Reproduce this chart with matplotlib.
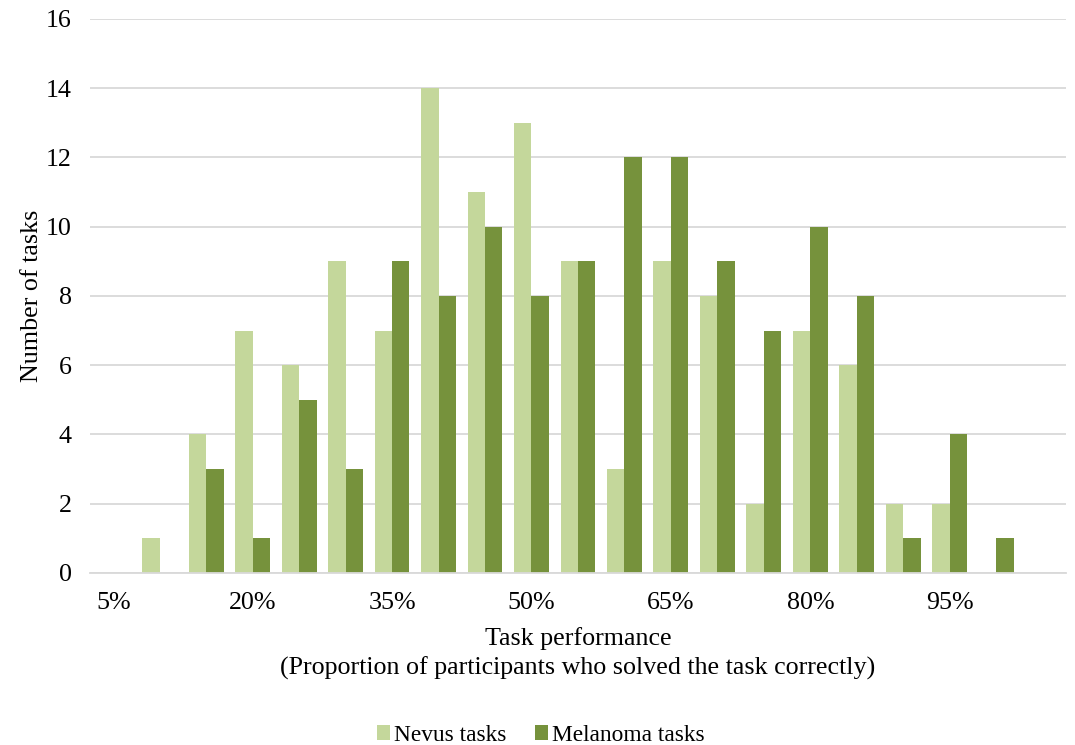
import matplotlib
matplotlib.use("Agg")
import matplotlib.pyplot as plt
import numpy as np

plt.rcParams['font.family'] = ['Liberation Serif', 'DejaVu Serif']

categories = ["5%", "10%", "15%", "20%", "25%", "30%", "35%", "40%", "45%", "50%",
              "55%", "60%", "65%", "70%", "75%", "80%", "85%", "90%", "95%", "100%", "105%"]
nevus = [0, 1, 4, 7, 6, 9, 7, 14, 11, 13, 9, 3, 9, 8, 2, 7, 6, 2, 2, 0, 0]
melanoma = [0, 0, 3, 1, 5, 3, 9, 8, 10, 8, 9, 12, 12, 9, 7, 10, 8, 1, 4, 1, 0]
yticks = [0, 2, 4, 6, 8, 10, 12, 14, 16]

c_nevus = "#C4D79B"
c_mel = "#76923C"
fs = 18.7
fs_leg = 16.8

fig = plt.figure(figsize=(10.75, 7.45), dpi=100)
ax = fig.add_axes([0.0837, 0.2309, 0.9079, 0.7436])

x = np.arange(len(categories))
w = 0.375
ax.bar(x - w / 2, nevus, width=w, color=c_nevus, label="Nevus tasks", zorder=3)
ax.bar(x + w / 2, melanoma, width=w, color=c_mel, label="Melanoma tasks", zorder=3)

ax.set_xlim(-0.5, len(categories) - 0.5)
ax.set_ylim(0, 16)
ax.set_yticks(yticks)
ax.set_yticklabels([str(v) for v in yticks], fontsize=fs)
ax.set_xticks(x[::3])
ax.set_xticklabels(categories[::3], fontsize=fs)
ax.tick_params(axis='both', length=0)
ax.tick_params(axis='x', pad=14)
ax.tick_params(axis='y', pad=13)
ax.grid(axis='y', color="#D9D9D9", linewidth=1.3, zorder=0)
for s in ['top', 'right', 'left']:
    ax.spines[s].set_visible(False)
ax.spines['bottom'].set_color("#D9D9D9")
ax.spines['bottom'].set_linewidth(1.3)
ax.spines['bottom'].set_zorder(4)

ax.set_ylabel("Number of tasks", fontsize=fs, labelpad=2)
ax.set_xlabel("Task performance\n(Proportion of participants who solved the task correctly)",
              fontsize=fs, labelpad=9, linespacing=1.38)

fig.legend(loc='center', ncol=2, bbox_to_anchor=(0.503, 0.013), frameon=False,
           fontsize=fs_leg, handlelength=0.56, handleheight=0.56, handletextpad=0.17,
           columnspacing=1.2, borderpad=0.1)

fig.savefig("out.png", dpi=100)
